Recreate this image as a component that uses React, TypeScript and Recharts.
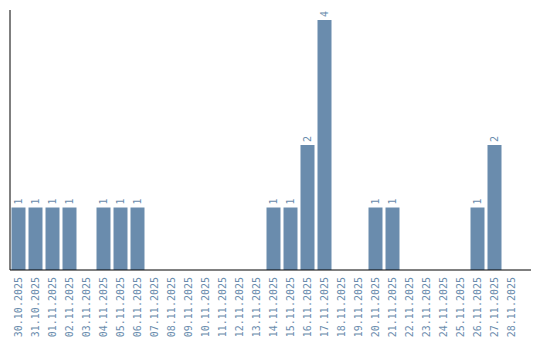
import { BarChart, Bar, XAxis, YAxis, LabelList } from 'recharts'

const dates = [
  '30.10.2025', '31.10.2025', '01.11.2025', '02.11.2025', '03.11.2025',
  '04.11.2025', '05.11.2025', '06.11.2025', '07.11.2025', '08.11.2025',
  '09.11.2025', '10.11.2025', '11.11.2025', '12.11.2025', '13.11.2025',
  '14.11.2025', '15.11.2025', '16.11.2025', '17.11.2025', '18.11.2025',
  '19.11.2025', '20.11.2025', '21.11.2025', '22.11.2025', '23.11.2025',
  '24.11.2025', '25.11.2025', '26.11.2025', '27.11.2025', '28.11.2025',
]
const counts = [
  1, 1, 1, 1, 0, 1, 1, 1, 0, 0,
  0, 0, 0, 0, 0, 1, 1, 2, 4, 0,
  0, 1, 1, 0, 0, 0, 0, 1, 2, 0,
]

const BLUE = '#6a8cad'
const FONT = '"DejaVu Sans Mono", monospace'

const chartData = dates.map((d, i) => ({ date: d, count: counts[i] }))

function DateTick({ x, y, payload }: any) {
  const ty = y + 7
  return (
    <text
      x={x}
      y={ty}
      dy="0.35em"
      transform={`rotate(-90, ${x}, ${ty})`}
      textAnchor="end"
      fill={BLUE}
      fontSize={10}
      fontFamily={FONT}
    >
      {payload.value}
    </text>
  )
}

function ValueLabel({ x, y, width, value }: any) {
  if (!value) return null
  const cx = Number(x) + Number(width) / 2
  const cy = Number(y) - 3
  return (
    <text
      x={cx}
      y={cy}
      dy="0.35em"
      transform={`rotate(-90, ${cx}, ${cy})`}
      textAnchor="start"
      fill={BLUE}
      fontSize={10}
      fontFamily={FONT}
    >
      {value}
    </text>
  )
}

export default function App() {
  return (
    <BarChart
      width={524}
      height={332}
      data={chartData}
      margin={{ top: 2, right: 1, bottom: 0, left: 0 }}
      barCategoryGap={1.5}
    >
      <XAxis
        dataKey="date"
        interval={0}
        height={70}
        tickLine={false}
        tickSize={0}
        tickMargin={0}
        axisLine={{ stroke: '#000' }}
        padding={{ left: 0, right: 11 }}
        tick={<DateTick />}
      />
      <YAxis
        type="number"
        domain={[0, 4]}
        width={2}
        tick={false}
        tickLine={false}
        axisLine={{ stroke: '#000', strokeWidth: 1 }}
        padding={{ top: 10, bottom: 0 }}
      />
      <Bar dataKey="count" fill={BLUE} isAnimationActive={false}>
        <LabelList dataKey="count" content={<ValueLabel />} />
      </Bar>
    </BarChart>
  )
}
